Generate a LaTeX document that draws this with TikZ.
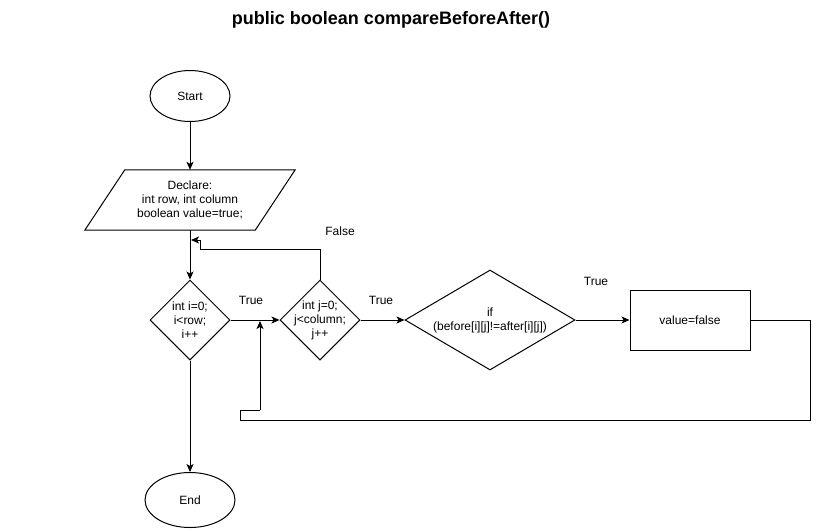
\documentclass[tikz,border=0pt]{standalone}
\usepackage{fontspec}
\setmainfont{Liberation Sans}
\usetikzlibrary{shapes.geometric,arrows.meta}
\begin{document}
\begin{tikzpicture}[x=1pt,y=-1pt,
  every node/.style={font=\fontsize{12}{14}\selectfont},
  line/.style={line width=1pt},
  arr/.style={line width=1pt,-{Stealth[length=8pt,width=7pt,inset=2pt]}},
  term/.style={ellipse,draw,line width=1pt,inner sep=0pt},
  dia/.style={diamond,draw,line width=1pt,inner sep=0pt},
  txt/.style={align=center,inner sep=0pt,font=\fontsize{12}{14}\selectfont}
]
\useasboundingbox (0,0) rectangle (819,531);
\node[font=\bfseries\fontsize{18}{20}\selectfont] (title) at (391,20) {public boolean compareBeforeAfter()};

\node[term,minimum width=80pt,minimum height=51pt] (start) at (190,96) {Start};

\node[rectangle,minimum width=210pt,minimum height=60pt,inner sep=0pt] (decl) at (190,200) {};
\draw[line] ([xshift=40pt]decl.north west) -- (decl.north east) -- ([xshift=-40pt]decl.south east) -- (decl.south west) -- cycle;
\node[txt] (declt) at (190,200) {Declare:\\int row, int column\\boolean value=true;};

\node[dia,minimum width=80pt,minimum height=80pt] (d1) at (190,320) {};
\node[txt] (d1t) at (190,320) {int i=0;\\i<row;\\i++};

\node[dia,minimum width=80pt,minimum height=80pt] (d2) at (320,320) {};
\node[txt] (d2t) at (320,320) {int j=0;\\j<column;\\j++};

\node[dia,minimum width=170pt,minimum height=100pt] (d3) at (490,320) {};
\node[txt] (d3t) at (490,320) {if\\(before[i][j]!=after[i][j])};

\node[rectangle,draw,line width=1pt,minimum width=120pt,minimum height=60pt] (vf) at (690,320) {value=false};

\node[term,minimum width=90pt,minimum height=55pt] (end) at (190,500) {End};

% connectors
\draw[arr] (start) -- (decl);
\draw[arr] (decl.south) -- (d1.north);
\draw[arr] (d1.east) -- (d2.west);
\draw[arr] (d2.east) -- (d3.west);
\draw[arr] (d3.east) -- (vf.west);
\draw[arr] (d1.south) -- (end.north);

\coordinate (f1) at (320,249);
\coordinate (f2) at (200,249);
\coordinate (f3) at (200,240);
\coordinate (f4) at (191,240);
\draw[line] (d2.north) -- (f1) -- (f2) -- (f3);
\draw[arr] (f3) -- (f4);

\coordinate (l1) at (810,320);
\coordinate (l2) at (810,420);
\coordinate (l3) at (240,420);
\coordinate (l4) at (240,410);
\coordinate (l5) at (260,410);
\coordinate (l6) at (260,321);
\draw[line] (vf.east) -- (l1) -- (l2) -- (l3) -- (l4) -- (l5);
\draw[arr] (l5) -- (l6);

% labels
\node (t1) at (251,300) {True};
\node (t2) at (381,300) {True};
\node (t3) at (596,281) {True};
\node (fl) at (340,231) {False};
\end{tikzpicture}
\end{document}
